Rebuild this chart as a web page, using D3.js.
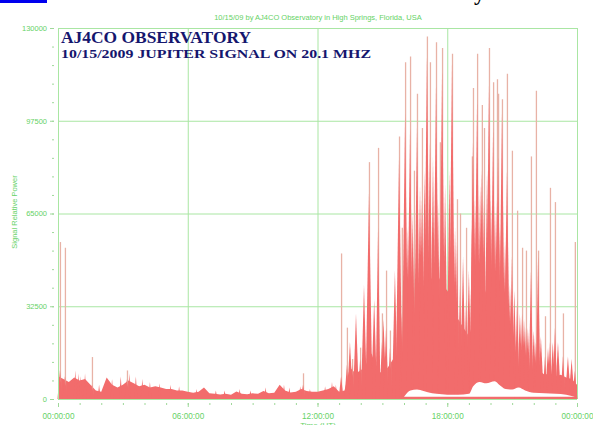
<!DOCTYPE html>
<html><head><meta charset="utf-8">
<script src="https://cdn.jsdelivr.net/npm/d3@7"></script>
<style>body{margin:0;background:#fff}svg{display:block}</style>
</head><body>
<svg id="c" width="593" height="425"></svg>
<script>
// ---- data ----
const chartTitle = "10/15/09  by  AJ4CO Observatory  in  High Springs, Florida, USA";
const overlayLine1 = "AJ4CO  OBSERVATORY";
const overlayLine2 = "10/15/2009  JUPITER SIGNAL ON 20.1 MHZ";
const yTicks = [0, 32500, 65000, 97500, 130000];
const yTickLabels = ["0", "32500", "65000", "97500", "130000"];
const xTicks = [0, 6, 12, 18, 24];
const xTickLabels = ["00:00:00", "06:00:00", "12:00:00", "18:00:00", "00:00:00"];
const yTitle = "Signal Relative Power";
const xTitle = "Time (UT)";
// body envelope (signal power, thousands), one value every quarter hour from 00:00 to 24:00
const bodyStep = 0.25;
const bodyPower = [
  8, 7, 6, 7.5, 6.5, 7, 5, 3, 2.5, 7.5, 5, 4, 5, 6.5, 5.5, 4.5,
  5, 4, 4.5, 4, 3.5, 3.5, 3, 3, 2.5, 2.2, 2.5, 4, 2, 1.8, 1.6, 1.8,
  1.5, 2.6, 1.8, 1.7, 2, 1.8, 2.8, 2, 2.2, 5, 3, 2.3, 2.5, 3.5, 2.8, 2.5,
  2.5, 3, 3.5, 4.5, 2.5, 3, 11, 9, 10, 12, 16, 10, 9, 11, 14, 16,
  22, 25, 30, 35, 40, 42, 45, 40, 38, 35, 28, 25, 22, 28, 35, 38,
  33, 28, 22, 17, 14, 11, 10.5, 9.5, 9, 10, 8.5, 9, 8, 8.5, 7.5, 7, 5
];
// spikes: [hour, thin peak (k), solid peak (k)]
const spikes = [
  [0.09, 55, 10], [0.32, 53, 8], [1.57, 14.7, 5], [3.19, 10, 7], [11.33, 9, 5],
  [13.09, 51, 8], [13.36, 25, 12], [13.6, 14, 12], [13.97, 18, 14], [14.38, 83, 72],
  [14.8, 88, 60], [14.98, 30, 20], [15.17, 45, 25], [15.35, 24, 18], [15.77, 92, 85],
  [15.9, 60, 30], [16.05, 118, 100], [16.28, 120, 95], [16.46, 80, 50], [16.6, 107, 95],
  [16.83, 95, 70], [17.06, 127, 120], [17.2, 118, 90], [17.48, 125, 110], [17.66, 90, 50],
  [17.76, 123, 115], [18.22, 121, 118], [18.45, 70, 55], [18.59, 65, 40], [18.87, 60, 35],
  [19.14, 85, 60], [19.19, 109, 90], [19.38, 121, 105], [19.6, 103, 80], [19.7, 95, 70],
  [19.93, 123, 110], [20.12, 111, 95], [20.3, 112, 70], [20.35, 107, 85], [20.53, 105, 100],
  [20.76, 114, 80], [20.99, 87, 50], [21.23, 66, 35], [21.46, 53, 30], [21.64, 52, 25],
  [21.87, 85, 45], [22.1, 108, 20], [22.2, 52, 50], [22.52, 29, 15], [22.75, 74, 20],
  [22.98, 69, 25], [23.35, 30, 15], [23.9, 55, 10]
];
// medium solid spikes inside the dense section: [hour, peak (k)]
const minorSpikes = [
  [13.5, 20], [13.78, 30], [14.15, 40], [14.62, 35], [15.05, 28], [15.58, 45], [16.18, 60],
  [16.4, 65], [16.74, 75], [16.95, 80], [17.34, 85], [17.57, 70], [17.9, 75], [18.1, 80],
  [18.36, 60], [18.73, 50], [19.0, 45], [19.28, 70], [19.52, 75], [19.84, 80], [20.02, 70],
  [20.21, 65], [20.44, 60], [20.67, 55], [20.9, 40], [21.1, 38], [21.36, 30], [21.55, 28],
  [21.73, 25], [22.0, 24], [22.33, 22], [22.66, 18], [22.88, 20], [23.12, 20], [23.58, 15], [23.75, 14]
];
// small bursts in the quiet first half: [hour, peak (k)]
const smallSpikes = [
  [0.8, 10], [0.95, 9], [1.05, 8], [1.25, 9], [1.9, 5], [2.5, 7], [2.9, 8], [3.3, 9],
  [3.6, 8], [3.9, 7], [4.25, 6], [4.7, 5.5], [5.2, 5], [5.6, 4.5], [6.4, 3.5], [7.3, 3],
  [7.7, 3], [8.4, 3.5], [8.9, 3], [9.6, 4], [10.45, 5], [10.7, 4], [11.2, 4.5], [11.65, 3.5],
  [12.35, 4.5], [12.67, 6], [12.85, 5]
];
// quiet band (white gap above the floor) : hours and top (k)
const gapHours = [16.0, 16.3, 16.6, 16.9, 17.3, 17.5, 18, 18.5, 19, 19.2, 19.5, 19.8, 20.2, 20.4, 20.7, 21, 21.3, 21.6, 22, 22.5, 23, 23.5, 23.9];
const gapTop = [0.8, 3.0, 3.3, 2.8, 2.0, 1.8, 1.5, 1.5, 1.8, 4.5, 6.0, 5.5, 6.2, 5.0, 3.5, 3.3, 4.0, 3.0, 2.2, 2.0, 1.8, 1.5, 0.8];
const gapFloor = 0.8;

// ---- drawing ----
const svg = d3.select("#c");
const x = d3.scaleLinear().domain([0, 24]).range([58, 577]);
const y = d3.scaleLinear().domain([0, 130000]).range([399, 28]);
const green = "#66d266", grid = "#a9e6a3", red = "#f26c6c", light = "#e8b2a6";

svg.append("rect").attr("width", 593).attr("height", 425).attr("fill", "#fff");

// gridlines
svg.append("g").selectAll("line").data(yTicks).join("line")
  .attr("x1", x(0)).attr("x2", x(24)).attr("y1", d => y(d) + 0.5).attr("y2", d => y(d) + 0.5)
  .attr("stroke", grid).attr("stroke-width", 1);
svg.append("g").selectAll("line").data(xTicks).join("line")
  .attr("y1", y(0)).attr("y2", y(130000)).attr("x1", d => x(d) + 0.5).attr("x2", d => x(d) + 0.5)
  .attr("stroke", grid).attr("stroke-width", 1);

// body area
const body = bodyPower.map((v, i) => [i * bodyStep, v * 1000]);
svg.append("path").datum(body)
  .attr("d", d3.area().x(d => x(d[0])).y0(y(0)).y1(d => y(d[1])).curve(d3.curveLinear))
  .attr("fill", red);

// thin light spikes
svg.append("g").selectAll("line").data(spikes).join("line")
  .attr("x1", d => x(d[0]) + 0.5).attr("x2", d => x(d[0]) + 0.5)
  .attr("y1", y(0)).attr("y2", d => y(d[1] * 1000))
  .attr("stroke", light).attr("stroke-width", 1.3);
// solid spikes
const tri = (h, v, w) => `M${x(h) - w},${y(0)}L${x(h)},${y(v * 1000)}L${x(h) + w},${y(0)}Z`;
svg.append("g").selectAll("path").data(smallSpikes).join("path")
  .attr("d", d => tri(d[0], d[1], 1.6)).attr("fill", red);
svg.append("g").selectAll("path").data(minorSpikes).join("path")
  .attr("d", d => tri(d[0], d[1], 3)).attr("fill", red);
svg.append("g").selectAll("path").data(spikes).join("path")
  .attr("d", d => tri(d[0], d[2], d[2] > 60 ? 3.5 : 2.5)).attr("fill", red);

// quiet gap band
const gap = gapHours.map((h, i) => [h, gapTop[i] * 1000]);
svg.append("path").datum(gap)
  .attr("d", d3.area().x(d => x(d[0])).y0(y(gapFloor * 1000)).y1(d => y(d[1])).curve(d3.curveMonotoneX))
  .attr("fill", "#fff");

// axis lines (left and bottom)
svg.append("line").attr("x1", x(0) + 0.5).attr("x2", x(0) + 0.5).attr("y1", y(0)).attr("y2", y(130000)).attr("stroke", grid);
svg.append("line").attr("x1", x(0)).attr("x2", x(24)).attr("y1", y(0) + 0.5).attr("y2", y(0) + 0.5).attr("stroke", grid);

// y axis
const yAxis = svg.append("g").attr("transform", "translate(54,0)")
  .call(d3.axisLeft(y).tickValues(yTicks).tickSize(4).tickPadding(3)
    .tickFormat((d, i) => yTickLabels[i]));
svg.append("g").attr("transform", "translate(54,0)")
  .call(d3.axisLeft(y).tickValues(d3.range(0, 130001, 6500)).tickSize(2).tickFormat(""))
  .call(g => g.select(".domain").remove());
yAxis.select(".domain").remove();

// x axis
const xAxis = svg.append("g").attr("transform", "translate(0,403)")
  .call(d3.axisBottom(x).tickValues(xTicks).tickSize(4).tickPadding(6)
    .tickFormat((d, i) => xTickLabels[i]));
xAxis.select(".domain").remove();
svg.append("g").attr("transform", "translate(0,403)")
  .call(d3.axisBottom(x).tickValues(d3.range(0, 25, 1)).tickSize(2).tickFormat(""))
  .call(g => g.select(".domain").remove());

svg.selectAll(".tick line").attr("stroke", "#9fd89a");
svg.selectAll(".tick text").attr("fill", green).attr("font-family", "Liberation Sans, Arial, sans-serif");
yAxis.selectAll(".tick text").attr("font-size", 7.5);
xAxis.selectAll(".tick text").attr("font-size", 8.2);

// titles
svg.append("text").attr("x", 318).attr("y", 20).attr("text-anchor", "middle")
  .attr("font-family", "Liberation Sans, Arial, sans-serif").attr("font-size", 7.5).attr("fill", green)
  .text(chartTitle);
svg.append("text").attr("transform", "translate(17,212) rotate(-90)").attr("text-anchor", "middle")
  .attr("font-family", "Liberation Sans, Arial, sans-serif").attr("font-size", 7.5).attr("fill", green)
  .text(yTitle);
svg.append("text").attr("x", 318).attr("y", 428).attr("text-anchor", "middle")
  .attr("font-family", "Liberation Sans, Arial, sans-serif").attr("font-size", 8).attr("fill", green)
  .text(xTitle);

// overlay heading
svg.append("text").attr("x", 61).attr("y", 43)
  .attr("font-family", "Liberation Serif, Times New Roman, serif").attr("font-weight", "bold")
  .attr("font-size", 16.5).attr("fill", "#15166e")
  .attr("textLength", 190).attr("lengthAdjust", "spacingAndGlyphs").text(overlayLine1);
svg.append("text").attr("x", 61).attr("y", 58)
  .attr("font-family", "Liberation Serif, Times New Roman, serif").attr("font-weight", "bold")
  .attr("font-size", 13.5).attr("fill", "#15166e")
  .attr("textLength", 310).attr("lengthAdjust", "spacingAndGlyphs").text(overlayLine2);

// page fragments above the chart (link underline and cut-off glyph)
svg.append("rect").attr("x", 0).attr("y", 0).attr("width", 47).attr("height", 3).attr("fill", "#0000ee");
svg.append("text").attr("x", 474).attr("y", 0).attr("font-family", "Liberation Serif, serif")
  .attr("font-weight", "bold").attr("font-size", 22).attr("fill", "#000").text("y");
</script>
</body></html>
